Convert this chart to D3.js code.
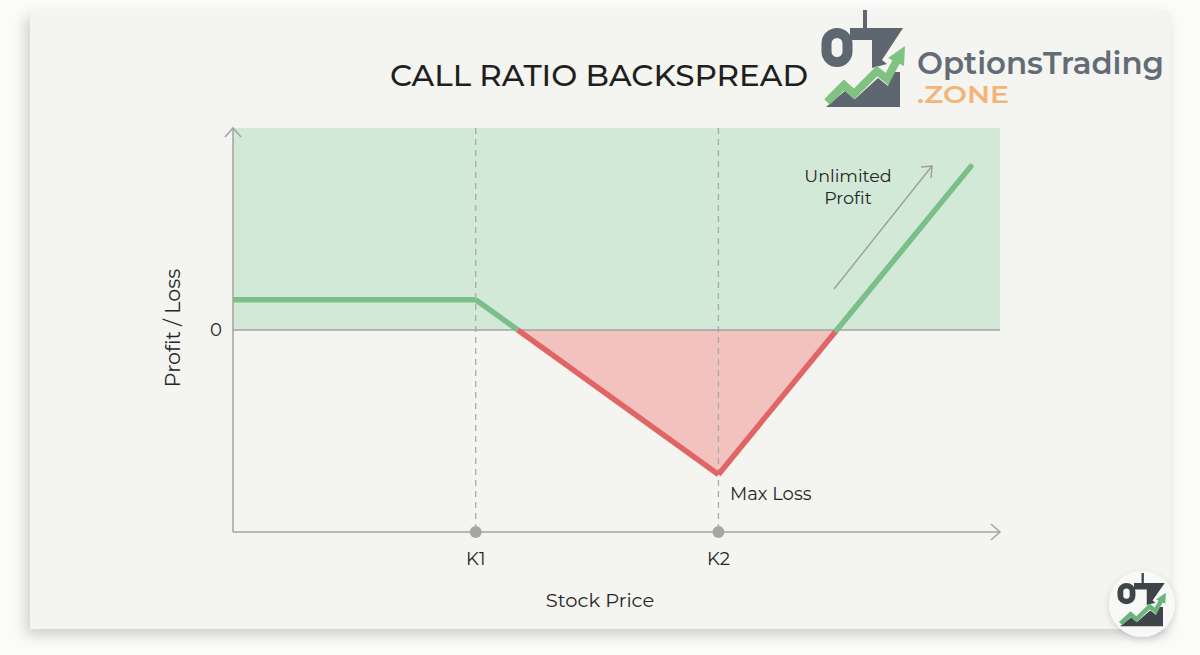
<!DOCTYPE html>
<html><head><meta charset="utf-8">
<script src="https://cdn.jsdelivr.net/npm/d3@7/dist/d3.min.js"></script>
<style>
html,body{margin:0;padding:0;background:#fbfbfa;}
svg{display:block;}
</style></head>
<body>
<svg id="c" width="1200" height="655"></svg>
<script>
// ---- data ----
const priceDomain = [0, 158];
const profitDomain = [-20, 20];
const strikeLabels = ["K1", "K2"];
const strikeValues = [50, 100];
const payoffPrices = [0, 50, 100, 152];
const payoffValues = [3, 3, -14.3, 16.2];
const zeroTick = [0];
const title = "CALL RATIO BACKSPREAD";

const svg = d3.select("#c");
const defs = svg.append("defs");
const f = defs.append("filter").attr("id","sh").attr("x","-5%").attr("y","-5%").attr("width","110%").attr("height","115%");
f.append("feDropShadow").attr("dx",-4).attr("dy",6).attr("stdDeviation",7).attr("flood-color","#000").attr("flood-opacity",0.18);
const f2 = defs.append("filter").attr("id","sh2").attr("x","-30%").attr("y","-30%").attr("width","160%").attr("height","160%");
f2.append("feDropShadow").attr("dx",0).attr("dy",2).attr("stdDeviation",3).attr("flood-color","#000").attr("flood-opacity",0.15);

// card
svg.append("rect").attr("x",30).attr("y",11).attr("width",1140).attr("height",618)
  .attr("fill","#f4f4f1").attr("filter","url(#sh)");

const pL = 233, pR = 1000, pT = 128, pB = 532;
const x = d3.scaleLinear().domain(priceDomain).range([pL, pR]);
const y = d3.scaleLinear().domain(profitDomain).range([pB, pT]);
const y0 = y(0);

// green profit zone
svg.append("rect").attr("x",pL).attr("y",pT).attr("width",pR-pL).attr("height",y0-pT)
  .attr("fill","#d3e9d7");

// red loss area
const pts = payoffPrices.map((p,i)=>({p, v: payoffValues[i]}));
function crossings(){
  const out=[];
  for(let i=0;i<pts.length-1;i++){
    const a=pts[i], b=pts[i+1];
    if((a.v>0&&b.v<0)||(a.v<0&&b.v>0)){
      const t=a.v/(a.v-b.v);
      out.push({p:a.p+t*(b.p-a.p), v:0});
    }
  }
  return out;
}
const cr = crossings();
const lossPts = [cr[0], ...pts.filter(d=>d.v<0), cr[1]];
svg.append("path").datum(lossPts)
  .attr("d", d3.area().x(d=>x(d.p)).y0(y0).y1(d=>y(d.v)))
  .attr("fill","#f2c2bf");

// dashed strike lines
svg.selectAll(".strike").data(strikeValues).join("line")
  .attr("x1",d=>x(d)).attr("x2",d=>x(d)).attr("y1",pT).attr("y2",pB)
  .attr("stroke","#a9a9a9").attr("stroke-width",1.3).attr("stroke-dasharray","6,5");

// zero line
svg.append("line").attr("x1",pL).attr("x2",pR).attr("y1",y0).attr("y2",y0)
  .attr("stroke","#a3a3a3").attr("stroke-width",1.5);

// axes
const axCol = "#a3a3a3";
svg.append("line").attr("x1",pL).attr("x2",pL).attr("y1",pT).attr("y2",pB).attr("stroke",axCol).attr("stroke-width",1.5);
svg.append("line").attr("x1",pL).attr("x2",pR).attr("y1",pB).attr("y2",pB).attr("stroke",axCol).attr("stroke-width",1.5);
svg.append("path").attr("d",`M${pL-8},${pT+9}L${pL},${pT}L${pL+8},${pT+9}`).attr("fill","none").attr("stroke",axCol).attr("stroke-width",1.5);
svg.append("path").attr("d",`M${pR-9},${pB-8}L${pR},${pB}L${pR-9},${pB+8}`).attr("fill","none").attr("stroke",axCol).attr("stroke-width",1.5);

// payoff line: green above zero, red below
const segs = [];
const all = [...pts, ...cr].sort((a,b)=>a.p-b.p);
for(let i=0;i<all.length-1;i++){
  const a=all[i], b=all[i+1];
  const mid=(a.v+b.v)/2;
  segs.push({pts:[a,b], neg: mid<0});
}
const line = d3.line().x(d=>x(d.p)).y(d=>y(d.v));
svg.selectAll(".seg").data(segs).join("path")
  .attr("d",d=>line(d.pts)).attr("fill","none")
  .attr("stroke",d=>d.neg?"#e06565":"#7bbf88").attr("stroke-width",5.5)
  .attr("stroke-linecap",(d,i)=> i===segs.length-1?"round":"butt")
  .attr("stroke-linejoin","round");

// strike dots
svg.selectAll(".dot").data(strikeValues).join("circle")
  .attr("cx",d=>x(d)).attr("cy",pB).attr("r",6).attr("fill","#a6a6a6");

const font = "Montserrat, 'Noto Sans', sans-serif";
const txt = "#262626";
svg.selectAll(".klab").data(strikeLabels).join("text")
  .attr("x",(d,i)=>x(strikeValues[i])).attr("y",565).attr("text-anchor","middle")
  .attr("font-family",font).attr("font-size",18).attr("fill",txt).text(d=>d);

svg.selectAll(".zero").data(zeroTick).join("text")
  .attr("x",216).attr("y",y(0)+6).attr("text-anchor","middle")
  .attr("font-family",font).attr("font-size",18).attr("fill",txt).text(d=>d);

svg.append("text").attr("x",600).attr("y",607).attr("text-anchor","middle")
  .attr("font-family",font).attr("font-size",19.5).attr("fill",txt).text("Stock Price");
svg.append("text").attr("transform","translate(180,328) rotate(-90)").attr("text-anchor","middle")
  .attr("font-family",font).attr("font-size",20.5).attr("fill",txt).text("Profit / Loss");

svg.append("text").attr("x",730).attr("y",500)
  .attr("font-family",font).attr("font-size",18).attr("fill",txt).text("Max Loss");

svg.append("text").attr("x",848).attr("y",182).attr("text-anchor","middle")
  .attr("font-family",font).attr("font-size",17.5).attr("fill",txt).text("Unlimited");
svg.append("text").attr("x",848).attr("y",204).attr("text-anchor","middle")
  .attr("font-family",font).attr("font-size",17.5).attr("fill",txt).text("Profit");

// unlimited arrow
svg.append("line").attr("x1",834).attr("y1",289).attr("x2",932).attr("y2",166)
  .attr("stroke","#9e9e9e").attr("stroke-width",1.4);
svg.append("path").attr("d","M921,167L932,166L931,178").attr("fill","none").attr("stroke","#9e9e9e").attr("stroke-width",1.4);

// title
svg.append("text").attr("x",390).attr("y",86).attr("textLength",418).attr("lengthAdjust","spacingAndGlyphs")
  .attr("font-family",font).attr("font-size",29).attr("font-weight",500).attr("fill","#1f1f1f").text(title);

// logo icon
function drawIcon(g, col, green){
  g.append("rect").attr("x",863).attr("y",10).attr("width",4).attr("height",22).attr("fill",col);
  g.append("rect").attr("x",826.5).attr("y",33).attr("width",21).attr("height",29).attr("rx",10.5)
    .attr("fill","none").attr("stroke",col).attr("stroke-width",10);
  g.append("path").attr("d","M850,28L903,28L882,60L887,64L872,68L872,40L850,40Z").attr("fill",col);
  g.append("path").attr("d","M826,107L846,90L855,99L878,78L888,86L892,72L900,72L900,107Z").attr("fill",col);
  g.append("path").attr("d","M827,102L844,85L854,94L877,71L887,79L897,60")
    .attr("fill","none").attr("stroke",green).attr("stroke-width",8).attr("stroke-linejoin","miter");
  g.append("path").attr("d","M888,58L905,46L904,66Z").attr("fill",green);
}
const lg = svg.append("g");
drawIcon(lg, "#5e6670", "#7fc281");
lg.append("text").attr("x",917).attr("y",74).attr("font-family",font).attr("font-size",32).attr("font-weight",600)
  .attr("textLength",247).attr("lengthAdjust","spacingAndGlyphs").attr("fill","#636c76").text("OptionsTrading");
lg.append("text").attr("x",917).attr("y",103).attr("font-family",font).attr("font-size",24).attr("font-weight",600)
  .attr("textLength",92).attr("lengthAdjust","spacingAndGlyphs").attr("fill","#f3b478").text(".ZONE");

// corner badge
svg.append("circle").attr("cx",1142).attr("cy",604).attr("r",33).attr("fill","#f8f8f6").attr("filter","url(#sh2)");
const bd = svg.append("g").attr("transform","translate(641,567.5) scale(0.58,0.55)");
drawIcon(bd, "#3f4449", "#6bb57a");
</script>
</body></html>
